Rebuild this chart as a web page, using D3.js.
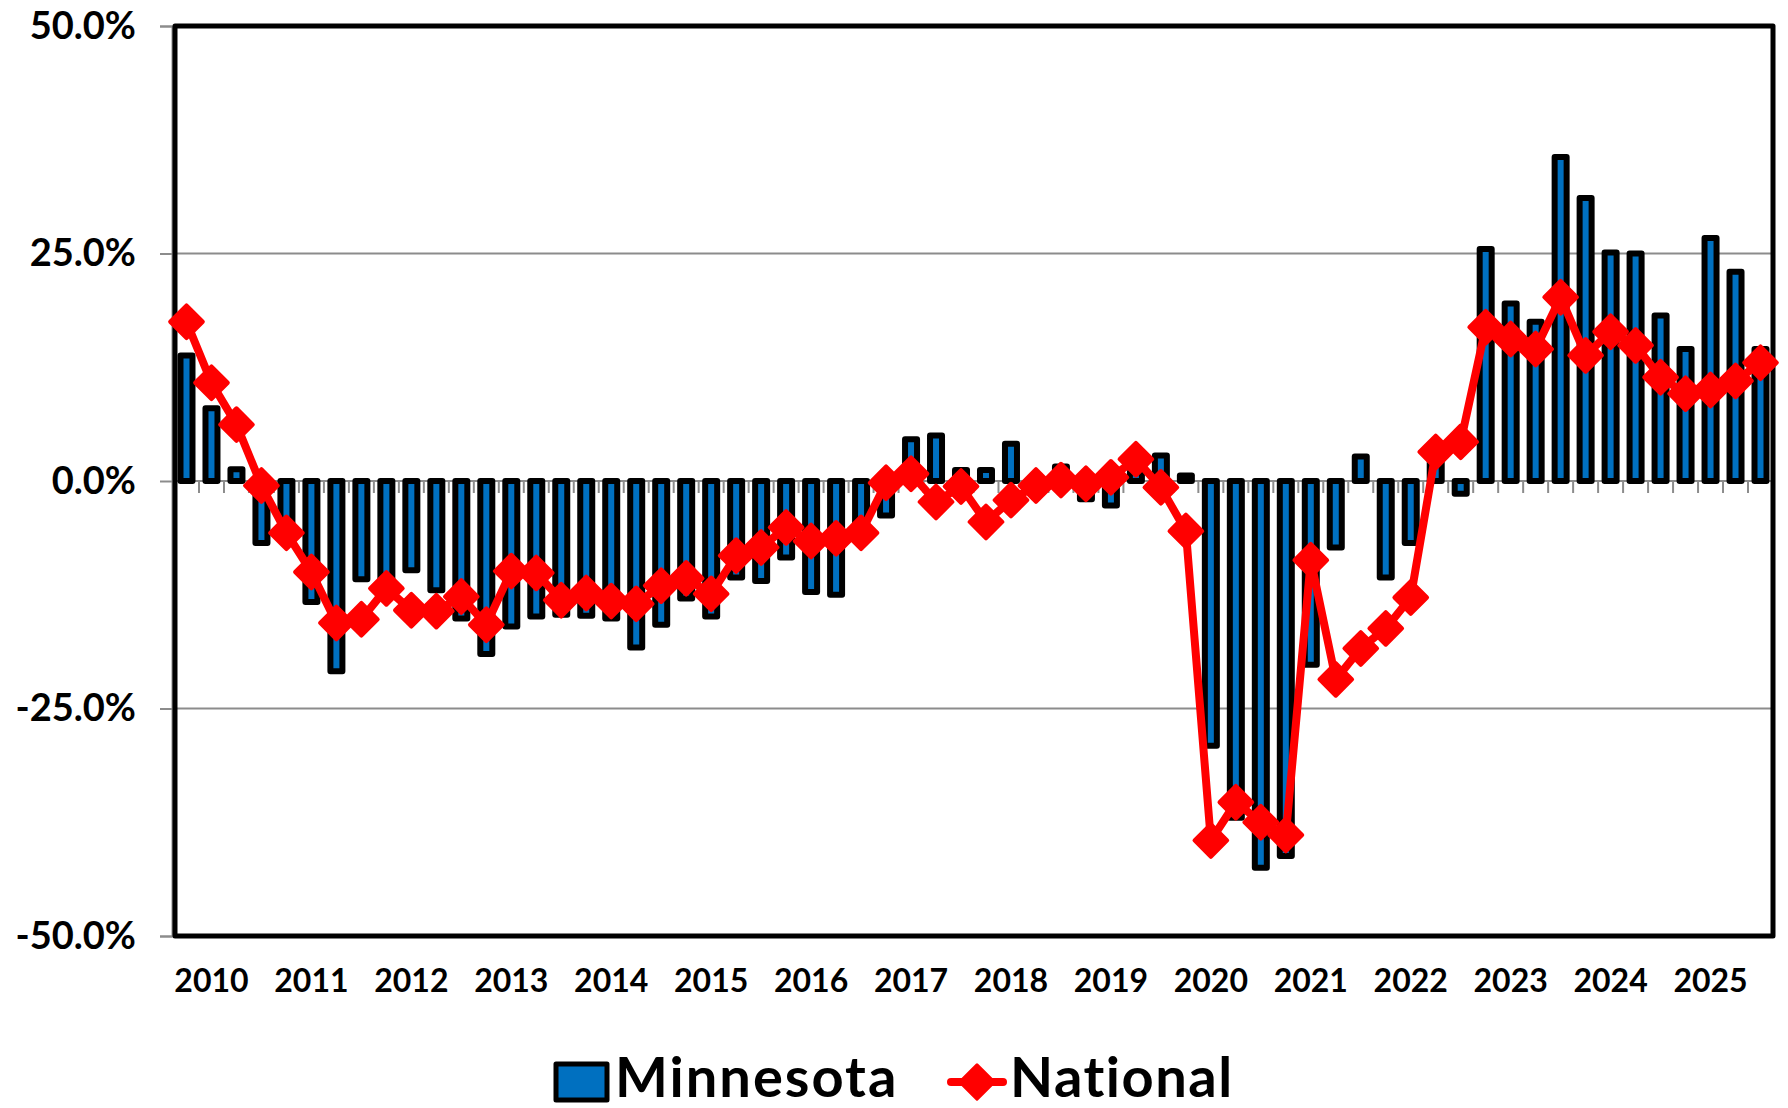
<!DOCTYPE html>
<html>
<head>
<meta charset="utf-8">
<script src="https://cdn.jsdelivr.net/npm/d3@7/dist/d3.min.js"></script>
<style>
  html, body { margin: 0; padding: 0; background: #fff; }
  svg { display: block; font-family: Lato, "Open Sans", sans-serif; font-weight: 700; }
</style>
</head>
<body>
<svg id="chart" width="1788" height="1108"></svg>
<script>
// quarterly change, 2009 Q4 .. 2025 Q3
const yearLabels = ['2010', '2011', '2012', '2013', '2014', '2015', '2016', '2017',
  '2018', '2019', '2020', '2021', '2022', '2023', '2024', '2025']
const quarters = ['2009 Q4'].concat(
  ...yearLabels.map(function (y) { return ['Q1', 'Q2', 'Q3', 'Q4'].map(function (q) { return y + ' ' + q }) })
).slice(0, 64)

const minnesota = [
  13.8, 8.0, 1.3, -6.8, -6.0, -13.3, -20.9, -10.8, -11.0, -9.8, -12.0, -15.1, -19.0, -16.0, -14.9, -14.7,
  -14.8, -15.1, -18.3, -15.8, -12.9, -14.9, -10.6, -11.0, -8.4, -12.2, -12.5, -5.0, -3.8, 4.6, 5.0, 1.2,
  1.2, 4.1, 0.3, 1.6, -2.0, -2.7, 1.0, 2.8, 0.6, -29.1, -37.0, -42.5, -41.2, -20.2, -7.3, 2.7,
  -10.6, -6.8, 2.0, -1.4, 25.5, 19.5, 17.5, 35.6, 31.1, 25.1, 25.0, 18.2, 14.5, 26.7, 23.0, 14.5
]
const national = [
  17.5, 10.8, 6.2, -0.5, -5.7, -10.0, -15.6, -15.2, -11.8, -14.2, -14.3, -12.7, -15.8, -9.9, -10.1, -13.1,
  -12.3, -13.2, -13.5, -11.5, -10.7, -12.4, -8.2, -7.3, -5.1, -6.6, -6.3, -5.7, -0.2, 0.8, -2.3, -0.6,
  -4.5, -2.1, -0.5, 0.1, -0.3, 0.4, 2.4, -0.7, -5.5, -39.5, -35.3, -37.5, -38.9, -8.7, -21.8, -18.4,
  -16.2, -12.8, 3.2, 4.3, 16.9, 15.6, 14.5, 20.2, 13.8, 16.4, 14.9, 11.4, 9.6, 10.0, 11.0, 13.0
]
const yTicks = [-50, -25, 0, 25, 50]
const seriesNames = ['Minnesota', 'National']

const BLUE = '#0070C0'
const RED = '#FF0000'
const GRAY = '#8C8C8C'

const margin = { left: 174, right: 15, top: 26, bottom: 172 }
const W = 1788
const H = 1108
const svg = d3.select('#chart')

const x = d3.scaleBand()
  .domain(quarters)
  .range([margin.left, W - margin.right])
  .paddingInner(0)
  .paddingOuter(0)

const y = d3.scaleLinear()
  .domain([-50, 50])
  .range([H - margin.bottom, margin.top])

const plotW = W - margin.right - margin.left
const plotTop = y(50)
const plotBottom = y(-50)

// gridlines
svg.append('g')
  .attr('class', 'grid')
  .selectAll('line')
  .data([-25, 25])
  .enter()
  .append('line')
    .attr('x1', margin.left)
    .attr('x2', margin.left + plotW)
    .attr('y1', function (d) { return y(d) })
    .attr('y2', function (d) { return y(d) })
    .attr('stroke', GRAY)
    .attr('stroke-width', 2)

// y axis
const yAxis = svg.append('g')
  .attr('transform', 'translate(' + (margin.left - 2) + ',0)')
  .call(d3.axisLeft(y)
    .tickValues(yTicks)
    .tickSize(12)
    .tickPadding(24)
    .tickFormat(function (d) { return d.toFixed(1) + '%' }))
yAxis.select('.domain').attr('stroke', GRAY).attr('stroke-width', 2)
yAxis.selectAll('.tick line').attr('stroke', GRAY).attr('stroke-width', 2)
yAxis.selectAll('.tick text')
  .attr('fill', '#000')
  .style('font-size', '38px')
  .style('font-weight', 700)
  .style('font-family', 'Lato, sans-serif')

// zero (category) axis line
const y0 = y(0)
svg.append('line')
  .attr('x1', margin.left)
  .attr('x2', margin.left + plotW)
  .attr('y1', y0)
  .attr('y2', y0)
  .attr('stroke', GRAY)
  .attr('stroke-width', 2)

svg.append('g')
  .attr('class', 'minor-ticks')
  .selectAll('line')
  .data(quarters.slice(1))
  .enter()
  .append('line')
    .attr('x1', function (d) { return x(d) })
    .attr('x2', function (d) { return x(d) })
    .attr('y1', y0)
    .attr('y2', y0 + 12)
    .attr('stroke', GRAY)
    .attr('stroke-width', 2)

// bars
const barW = 12
svg.append('g')
  .attr('class', 'bars')
  .selectAll('rect')
  .data(minnesota)
  .enter()
  .append('rect')
    .attr('x', function (d, i) { return x(quarters[i]) + (x.bandwidth() - barW) / 2 })
    .attr('y', function (d) { return y(Math.max(0, d)) })
    .attr('width', barW)
    .attr('height', function (d) { return Math.abs(y(d) - y(0)) })
    .attr('fill', BLUE)
    .attr('stroke', '#000')
    .attr('stroke-width', 6)
    .attr('stroke-linejoin', 'round')

// plot frame
svg.append('rect')
  .attr('x', margin.left + 1)
  .attr('y', plotTop)
  .attr('width', plotW - 1)
  .attr('height', plotBottom - plotTop)
  .attr('fill', 'none')
  .attr('stroke', '#000')
  .attr('stroke-width', 5)
  .attr('stroke-linejoin', 'round')

// x axis labels (year at each Q1)
const xAxis = svg.append('g')
  .attr('transform', 'translate(0,' + plotBottom + ')')
  .call(d3.axisBottom(x)
    .tickValues(yearLabels.map(function (yy) { return yy + ' Q1' }))
    .tickSize(0)
    .tickPadding(33)
    .tickFormat(function (d) { return d.slice(0, 4) }))
xAxis.select('.domain').remove()
xAxis.selectAll('.tick text')
  .attr('fill', '#000')
  .style('font-size', '32px')
  .style('font-weight', 700)
  .style('font-family', 'Lato, sans-serif')

// national line with diamonds
const cx = function (i) { return x(quarters[i]) + x.bandwidth() / 2 }
const line = d3.line()
  .x(function (d, i) { return cx(i) })
  .y(function (d) { return y(d) })

svg.append('path')
  .datum(national)
  .attr('d', line)
  .attr('fill', 'none')
  .attr('stroke', RED)
  .attr('stroke-width', 8)
  .attr('stroke-linejoin', 'round')

const diamond = d3.symbol().type(d3.symbolDiamond2).size(680)
svg.append('g')
  .attr('class', 'markers')
  .selectAll('path')
  .data(national)
  .enter()
  .append('path')
    .attr('transform', function (d, i) { return 'translate(' + cx(i) + ',' + y(d) + ')' })
    .attr('d', diamond)
    .attr('fill', RED)
    .attr('stroke', RED)
    .attr('stroke-width', 4)
    .attr('stroke-linejoin', 'round')

// legend
const legend = svg.append('g').attr('class', 'legend')
legend.append('rect')
  .attr('x', 556)
  .attr('y', 1064)
  .attr('width', 51)
  .attr('height', 36)
  .attr('fill', BLUE)
  .attr('stroke', '#000')
  .attr('stroke-width', 5)
  .attr('stroke-linejoin', 'round')
legend.append('text')
  .attr('x', 615)
  .attr('y', 1097)
  .style('font-size', '56px')
  .style('letter-spacing', '2px')
  .text(seriesNames[0])

legend.append('line')
  .attr('x1', 951)
  .attr('x2', 1003)
  .attr('y1', 1082)
  .attr('y2', 1082)
  .attr('stroke', RED)
  .attr('stroke-width', 8)
  .attr('stroke-linecap', 'round')
legend.append('path')
  .attr('transform', 'translate(977,1082)')
  .attr('d', d3.symbol().type(d3.symbolDiamond2).size(760))
  .attr('fill', RED)
  .attr('stroke', RED)
  .attr('stroke-width', 3)
  .attr('stroke-linejoin', 'round')
legend.append('text')
  .attr('x', 1010)
  .attr('y', 1097)
  .style('font-size', '56px')
  .style('letter-spacing', '1.5px')
  .text(seriesNames[1])
</script>
</body>
</html>
